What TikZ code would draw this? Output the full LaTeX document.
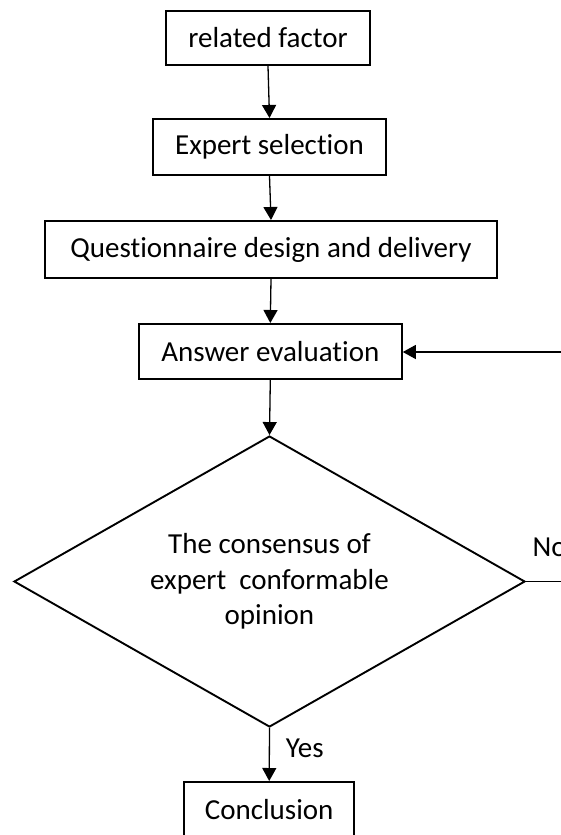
\documentclass[tikz,border=0pt]{standalone}
\usepackage{fontspec}
\setmainfont{Carlito}[Ligatures=CommonOff]
\usetikzlibrary{arrows.meta,shapes.geometric}
\begin{document}
\begin{tikzpicture}[x=1pt,y=-1pt,
  box/.style={draw,line width=2pt,inner sep=0pt,font=\fontsize{29}{34}\selectfont},
  flow/.style={line width=1.3pt,-{Triangle[length=13pt,width=14pt]}},
  lbl/.style={inner sep=0pt,font=\fontsize{29}{34}\selectfont}]
\useasboundingbox (0,0) rectangle (561,835);
\clip (0,0) rectangle (561,835);
% process boxes
\node[box,minimum width=204pt,minimum height=54pt] (rf) at (268,38) {related factor};
\node[box,minimum width=233pt,minimum height=56pt] (es) at (269.5,147) {Expert selection};
\node[box,minimum width=452pt,minimum height=57pt] (qd) at (271,249.5) {Questionnaire design and delivery};
\node[box,minimum width=263pt,minimum height=55pt] (ae) at (270.3,351.5) {Answer evaluation};
% decision: the outline and its text
\node[diamond,draw,line width=1.9pt,inner sep=0pt,minimum width=511pt,minimum height=291pt] (dc) at (269.5,581.5) {};
\node[align=center,inner sep=0pt,font=\fontsize{29}{35.5}\selectfont] (dct) at (dc.center)
  {The consensus of\\expert\ \ conformable\\opinion};
\node[box,minimum width=170pt,minimum height=56pt] (cl) at (269.2,810) {Conclusion};
% connectors
\draw[flow] (rf.south) -- (es.north);
\draw[flow] (es.south) -- (qd.north);
\draw[flow] (qd.south) -- (ae.north);
\draw[flow] (ae.south) -- (dc.north);
\draw[flow] (dc.south) -- (cl.north);
\node[lbl,anchor=base west] (yes) at (285.7,757.7) {Yes};
\coordinate (loopa) at (600,581.5);
\coordinate (loopb) at (600,352);
\draw[line width=1.3pt] (dc.east) -- (loopa) -- (loopb);
\draw[flow] (loopb) -- (ae.east |- loopb);
\node[lbl,anchor=base west] (no) at (532.5,556.7) {No};
\end{tikzpicture}
\end{document}
